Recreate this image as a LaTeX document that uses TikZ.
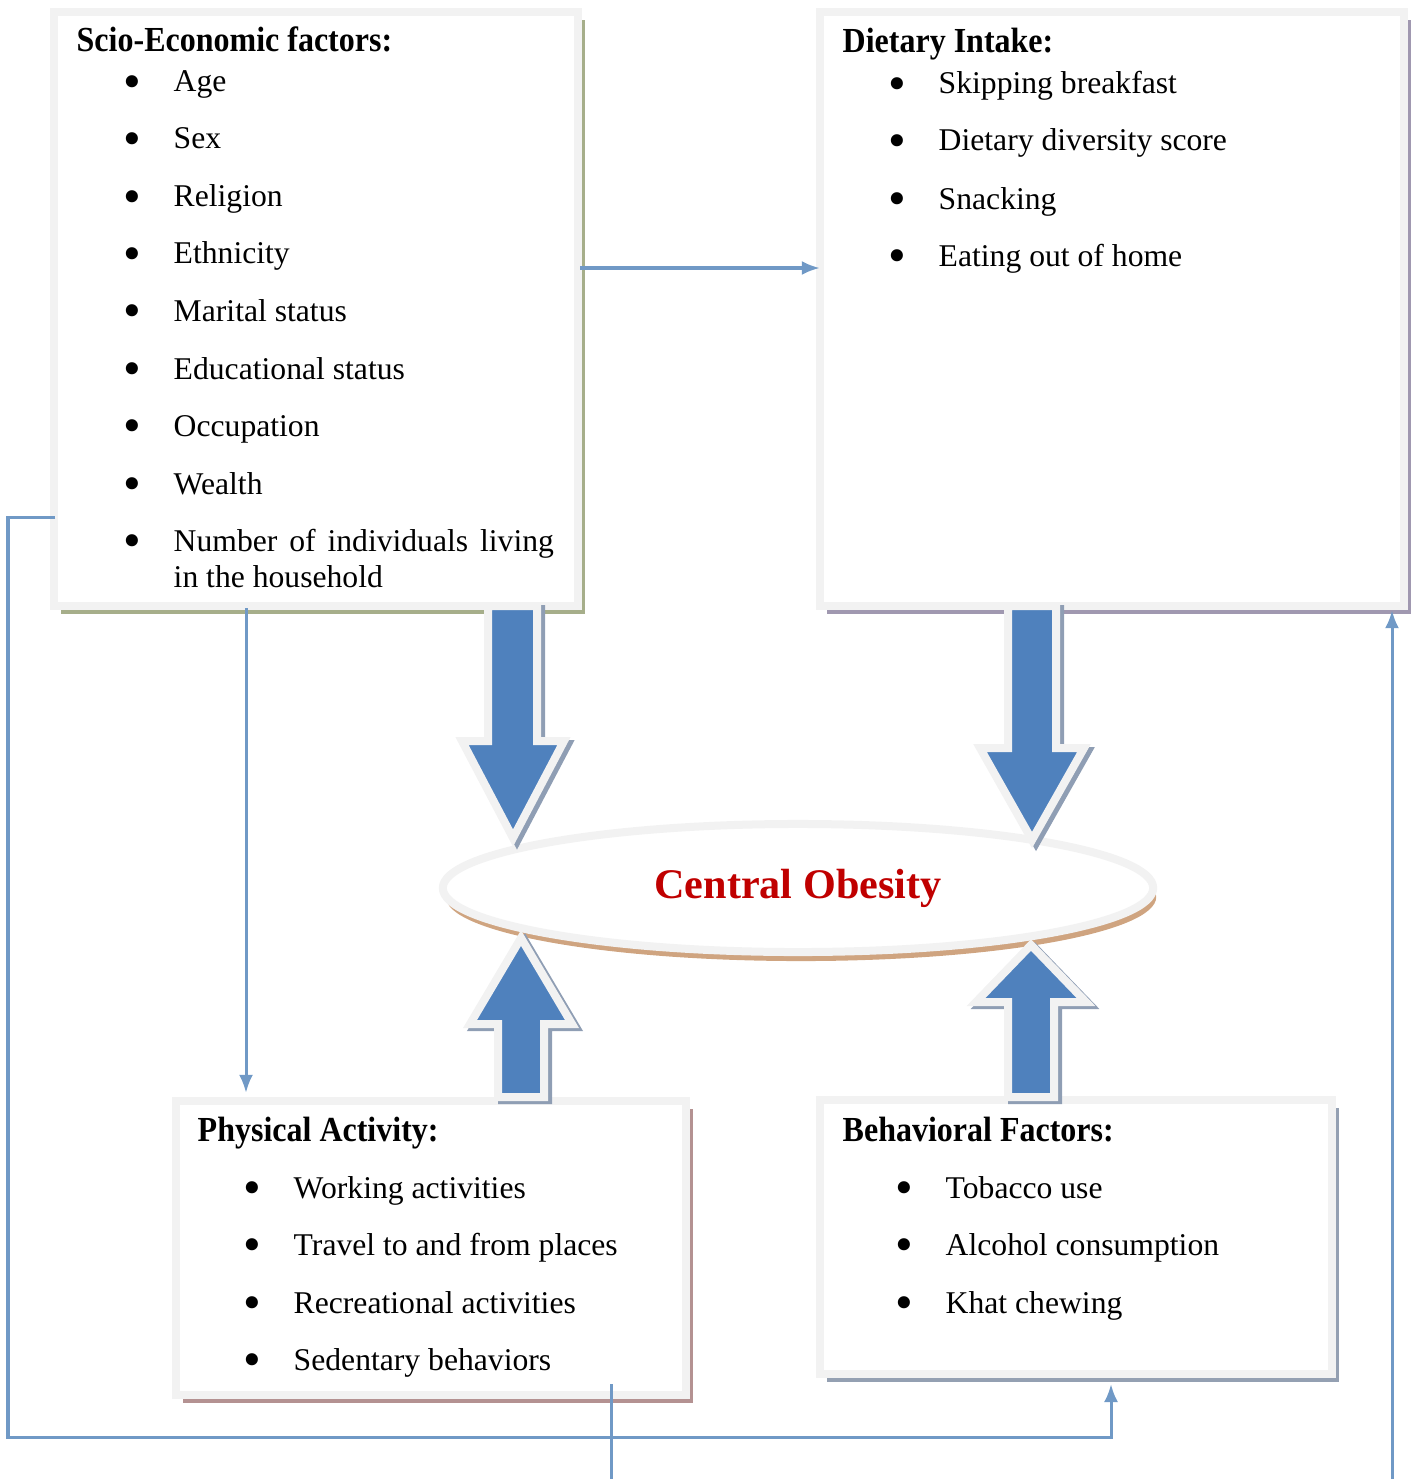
\documentclass[tikz,border=0pt]{standalone}
\usepackage{fontspec}
\setmainfont{Liberation Serif}
\usetikzlibrary{shapes.geometric,shadows,arrows.meta}

\definecolor{band}{HTML}{F2F2F2}
\definecolor{blockblue}{HTML}{4F81BD}
\definecolor{blockshade}{HTML}{8F9EB4}
\definecolor{linkblue}{HTML}{7099C6}
\definecolor{socshade}{HTML}{A6AE8A}
\definecolor{dietshade}{HTML}{A098B0}
\definecolor{physhade}{HTML}{B49292}
\definecolor{behshade}{HTML}{94A0B2}
\definecolor{ellshade}{HTML}{CFA480}
\definecolor{obesred}{HTML}{C00000}

\newcommand{\itm}[1]{\makebox[0.50cm][l]{\raisebox{-0.06cm}{\scalebox{1.6}{\textbullet}}}#1}
\newcommand{\ttl}[1]{\scalebox{0.91}[1]{#1}}
\newcommand{\bigarrow}[1]{%
  \filldraw[ablockshade,shift={(4,3)}] #1;
  \filldraw[ablock] #1;}

\tikzset{
  box/.style={draw=band, line width=0.08cm, fill=white, inner sep=0pt},
  title/.style={font=\bfseries, anchor=base west, inner sep=0pt},
  item/.style={anchor=base west, inner sep=0pt},
  link/.style={draw=linkblue, line width=0.03cm, -{Latex[length=0.18cm,width=0.14cm]}},
  ablock/.style={fill=blockblue, draw=band, line width=0.08cm, line join=miter},
  ablockshade/.style={fill=blockshade, draw=blockshade, line width=0.08cm, line join=miter}
}

\begin{document}
\begin{tikzpicture}[x=0.01cm,y=-0.01cm,every node/.style={font=\fontsize{9pt}{11pt}\selectfont}]
  \useasboundingbox (0,0) rectangle (1418,1479);
  %BOXES
  \node[box, minimum width=5.24cm, minimum height=5.94cm,
        drop shadow={shadow xshift=0.07cm, shadow yshift=-0.08cm, fill=socshade, opacity=1}] (soc) at (316,309) {};
  \node[box, minimum width=5.84cm, minimum height=5.94cm,
        drop shadow={shadow xshift=0.07cm, shadow yshift=-0.08cm, fill=dietshade, opacity=1}] (diet) at (1112,309) {};
  \node[box, minimum width=5.10cm, minimum height=2.94cm,
        drop shadow={shadow xshift=0.07cm, shadow yshift=-0.08cm, fill=physhade, opacity=1}] (phy) at (431,1248) {};
  \node[box, minimum width=5.12cm, minimum height=2.73cm,
        drop shadow={shadow xshift=0.07cm, shadow yshift=-0.08cm, fill=behshade, opacity=1}] (beh) at (1076,1237) {};
  %CENTRE
  \node[ellipse, draw=band, line width=0.08cm, fill=white, inner sep=0pt,
        minimum width=7.10cm, minimum height=1.28cm,
        font=\fontsize{12pt}{14pt}\selectfont\bfseries, text=obesred,
        drop shadow={shadow xshift=0.03cm, shadow yshift=-0.09cm, fill=ellshade, opacity=1}] (obes) at (798,888) {Central Obesity};

  %SCIO-ECONOMIC
  \node[title] (socT) at (76,52) {\ttl{Scio-Economic factors:}};
  \node[item] (soc1) at (123,92) {\itm{Age}};
  \node[item] (soc2) at (123,149) {\itm{Sex}};
  \node[item] (soc3) at (123,207) {\itm{Religion}};
  \node[item] (soc4) at (123,264) {\itm{Ethnicity}};
  \node[item] (soc5) at (123,321) {\itm{Marital status}};
  \node[item] (soc6) at (123,379) {\itm{Educational status}};
  \node[item] (soc7) at (123,436) {\itm{Occupation}};
  \node[item] (soc8) at (123,494) {\itm{Wealth}};
  \node[item] (soc9) at (123,551) {\itm{\makebox[3.80cm][s]{Number of individuals living}}};
  \node[item] (soc10) at (173,587) {in the household};
  %DIETARY
  \node[title] (dietT) at (842,53) {\ttl{Dietary Intake:}};
  \node[item] (diet1) at (888,94) {\itm{Skipping breakfast}};
  \node[item] (diet2) at (888,151) {\itm{Dietary diversity score}};
  \node[item] (diet3) at (888,209) {\itm{Snacking}};
  \node[item] (diet4) at (888,266) {\itm{Eating out of home}};
  %PHYSICAL
  \node[title] (phyT) at (197,1141) {\ttl{Physical Activity:}};
  \node[item] (phy1) at (243,1198) {\itm{Working activities}};
  \node[item] (phy2) at (243,1255) {\itm{Travel to and from places}};
  \node[item] (phy3) at (243,1313) {\itm{Recreational activities}};
  \node[item] (phy4) at (243,1370) {\itm{Sedentary behaviors}};
  %BEHAVIORAL
  \node[title] (behT) at (842,1141) {\ttl{Behavioral Factors:}};
  \node[item] (beh1) at (895,1198) {\itm{Tobacco use}};
  \node[item] (beh2) at (895,1255) {\itm{Alcohol consumption}};
  \node[item] (beh3) at (895,1313) {\itm{Khat chewing}};

  %THIN CONNECTORS
  \coordinate (p1) at (580,268);
  \draw[link, shorten >=-0.04cm] (p1) -- (p1 -| diet.west);
  \coordinate (q1) at (246,608);
  \draw[link, shorten >=0.04cm] (q1) -- (q1 |- phy.north);
  \coordinate (r1) at (55,517);
  \coordinate (r2) at (8,1437);
  \coordinate (r3) at (1111,1384);
  \draw[link] (r1) -| (r2) -| (r3);
  \coordinate (t1) at (611,1384);
  \coordinate (t2) at (611,1479);
  \draw[draw=linkblue, line width=0.03cm] (t1) -- (t2);
  \coordinate (u1) at (1392,1479);
  \draw[link] (u1) -- (u1 |- diet.south);

  %BLOCK ARROWS
  \bigarrow{(488,606) -- (488,741) -- (462,741) -- (513,838) -- (564,741) -- (537,741) -- (537,606) -- cycle}
  \bigarrow{(1008,606) -- (1008,748) -- (980,748) -- (1032,840) -- (1084,748) -- (1056,748) -- (1056,606) -- cycle}
  \bigarrow{(498,1097) -- (498,1024) -- (470,1024) -- (521,938) -- (572,1024) -- (544,1024) -- (544,1097) -- cycle}
  \bigarrow{(1008,1097) -- (1008,1002) -- (976,1002) -- (1031,945) -- (1086,1002) -- (1054,1002) -- (1054,1097) -- cycle}
\end{tikzpicture}
\end{document}
